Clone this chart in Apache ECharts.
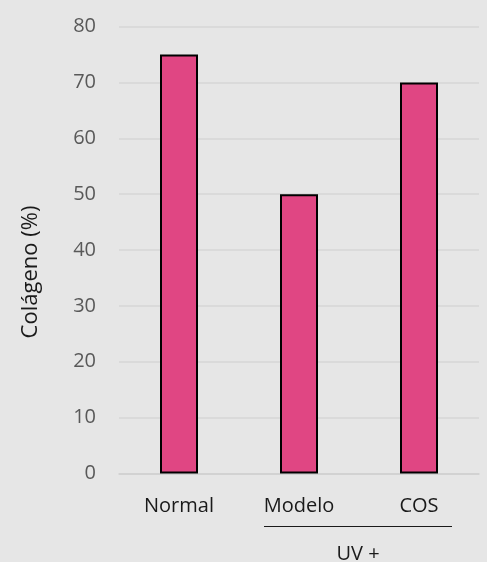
<!DOCTYPE html>
<html>
<head>
<meta charset="utf-8">
<script src="https://cdn.jsdelivr.net/npm/echarts@6/dist/echarts.min.js"></script>
<style>
  html, body { margin: 0; padding: 0; background: #e6e6e6; }
  #chart { width: 487px; height: 562px; }
</style>
</head>
<body>
<div id="chart"></div>
<script>
// Collagen content per group
var categories = ['Normal', 'Modelo', 'COS'];
var collagen = [75, 50, 70];
var yTicks = [0, 10, 20, 30, 40, 50, 60, 70, 80];
var axisTitle = 'Colágeno (%)';
var groupLabel = 'UV +';

var FONT = '"Open Sans", sans-serif';
var chart = echarts.init(document.getElementById('chart'), null, { renderer: 'canvas' });

chart.setOption({
  backgroundColor: '#e6e6e6',
  animation: false,
  grid: { left: 119, right: 8, top: 26.5, bottom: 88.5, containLabel: false },
  xAxis: {
    type: 'category',
    data: categories,
    axisTick: { show: false },
    axisLine: { show: true, lineStyle: { color: '#d0d0d0', width: 1.5 } },
    axisLabel: { color: '#1a1a1a', fontFamily: FONT, fontSize: 20, margin: 23 }
  },
  yAxis: {
    type: 'value',
    min: yTicks[0],
    max: yTicks[yTicks.length - 1],
    interval: yTicks[1] - yTicks[0],
    axisLine: { show: false },
    axisTick: { show: false },
    axisLabel: { color: '#595959', fontFamily: FONT, fontSize: 20, margin: 23 },
    splitLine: { lineStyle: { color: '#d6d6d6', width: 1.5 } }
  },
  series: [{
    type: 'bar',
    data: collagen,
    barWidth: 38,
    itemStyle: { color: '#e04683', borderColor: '#000000', borderWidth: 2 }
  }],
  graphic: [
    // y-axis title, rotated
    { type: 'text', x: 31, y: 272, rotation: Math.PI / 2,
      style: { text: axisTitle, fill: '#1a1a1a', font: '22px "Open Sans", sans-serif',
        align: 'center', verticalAlign: 'middle' } },
    // bracket line under the UV-treated groups
    { type: 'line', shape: { x1: 264, y1: 526.5, x2: 452, y2: 526.5 },
      style: { stroke: '#1a1a1a', lineWidth: 1.2 } },
    { type: 'text', x: 358, y: 554, style: { text: groupLabel, fill: '#1a1a1a',
      font: '20px "Open Sans", sans-serif', align: 'center', verticalAlign: 'middle' } }
  ]
});
</script>
</body>
</html>
